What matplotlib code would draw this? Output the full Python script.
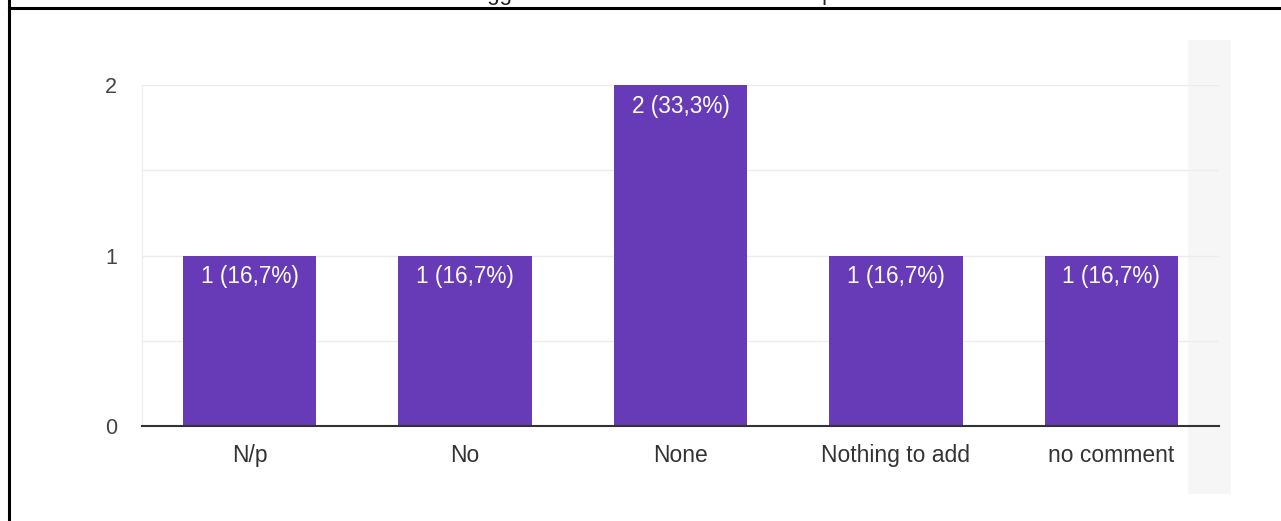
import matplotlib
matplotlib.use("Agg")
import matplotlib.pyplot as plt
from matplotlib.lines import Line2D
from matplotlib.patches import Rectangle

plt.rcParams['font.family'] = ['Liberation Sans', 'DejaVu Sans']

categories = ['N/p', 'No', 'None', 'Nothing to add', 'no comment']
counts = [1, 1, 2, 1, 1]
labels = ['1 (16,7%)', '1 (16,7%)', '2 (33,3%)', '1 (16,7%)', '1 (16,7%)']
title = 'Other suggestions or comments about the process?'

W, H = 1281, 521
fig = plt.figure(figsize=(W / 100, H / 100), dpi=100)

# light gray strip on the right, behind the chart
fig.add_artist(Rectangle((1188 / W, 1 - 494 / H), 43 / W, 454 / H,
                         transform=fig.transFigure, facecolor='#f6f6f6',
                         edgecolor='none', zorder=0))

ax = fig.add_axes([142 / W, 1 - 426 / H, 1077 / W, 341 / H])
ax.set_facecolor('none')

x = range(len(categories))
bars = ax.bar(x, counts, width=0.62, color='#673ab7', zorder=3)
for b, lab in zip(bars, labels):
    ax.annotate(lab, (b.get_x() + b.get_width() / 2, b.get_height()),
                xytext=(0, -7), textcoords='offset points',
                ha='center', va='top', color='white', fontsize=16.3, zorder=4)

ax.set_xlim(-0.5, len(categories) - 0.5)
ax.set_ylim(0, 2)
ax.set_yticks([0, 1, 2])
ax.set_yticks([0.5, 1.5], minor=True)
ax.set_xticks(list(x))
ax.set_xticklabels(categories)
ax.tick_params(axis='x', length=0, pad=13, labelsize=16.5, labelcolor='#333333')
ax.tick_params(axis='y', which='both', length=0, pad=18, labelsize=15.5, labelcolor='#444444')
ax.grid(axis='y', which='both', color='#ececec', linewidth=1, zorder=0)

for s in ['top', 'right']:
    ax.spines[s].set_visible(False)
ax.spines['left'].set_color('#ececec')
ax.spines['bottom'].set_color('#333333')
ax.spines['bottom'].set_linewidth(1.5)
ax.spines['bottom'].set_zorder(5)

# cell borders of the surrounding page
fig.add_artist(Line2D([9 / W, 1], [1 - 7.5 / H, 1 - 7.5 / H],
                      transform=fig.transFigure, color='black', linewidth=2.2))
fig.add_artist(Line2D([9 / W, 9 / W], [0, 1],
                      transform=fig.transFigure, color='black', linewidth=2.2))

# title sits mostly above the visible area
fig.text(402 / W, 1.0, title, ha='left', va='baseline',
         fontsize=16, color='#222222')

fig.savefig('out.png', dpi=100)
